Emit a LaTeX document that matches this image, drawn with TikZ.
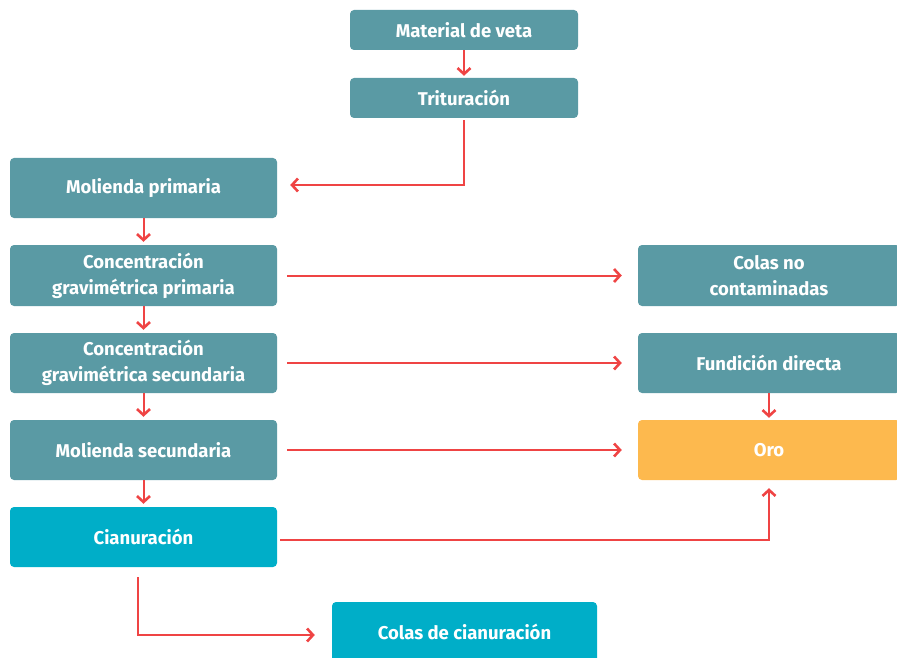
\documentclass[tikz,border=0pt]{standalone}
\usepackage{fontspec}
\setmainfont{Fira Sans}
\usepackage{tikz}
\usetikzlibrary{arrows.meta,positioning}
\definecolor{procteal}{HTML}{5A9AA4}
\definecolor{procblue}{HTML}{00AEC8}
\definecolor{procgold}{HTML}{FDB94E}
\definecolor{flowred}{HTML}{EF4444}

\begin{document}
\begin{tikzpicture}[x=1pt,y=-1pt]
      \useasboundingbox (0,0) rectangle (897,658);
      \begin{scope}[every node/.style={rectangle, rounded corners=4, fill=procteal, text=white, inner sep=0,
                    align=center, font=\fontsize{18.5}{26}\selectfont\bfseries}]
          \node[minimum width=228, minimum height=40] (MV) at (464,30) {Material de veta};
          \node[minimum width=228, minimum height=40] (TR) at (464,98) {Trituración};
          \node[minimum width=267, minimum height=60] (MP) at (143.5,188) {Molienda primaria};
          \node[minimum width=267, minimum height=61] (CP) at (143.5,275.5) {Concentración\\gravimétrica primaria};
          \node[minimum width=267, minimum height=60] (CS) at (143.5,363) {Concentración\\gravimétrica secundaria};
          \node[minimum width=267, minimum height=60] (MS) at (143.5,450) {Molienda secundaria};
          \node[minimum width=267, minimum height=60, fill=procblue] (CN) at (143.5,537) {Cianuración};
          \node[minimum width=265, minimum height=60, fill=procblue] (CC) at (464.5,632) {Colas de cianuración};
          \node[minimum width=262, minimum height=61] (NC) at (769,275.5) {Colas no\\contaminadas};
          \node[minimum width=262, minimum height=60] (FD) at (769,363) {Fundición directa};
          \node[minimum width=262, minimum height=60, fill=procgold] (OR) at (769,450) {Oro};
      \end{scope}

      \begin{scope}[>={Straight Barb[length=6pt, width=13pt, line width=2.6pt]},
                    every path/.style={draw=flowred, line width=2}]
          \draw [->, shorten >=2] (MV) -- (TR);
          \draw [->, shorten <=2, shorten >=13] (TR.south) |- ([yshift=3]MP.east);
          \draw [->, shorten >=3] (MP) -- (CP);
          \draw [->, shorten >=3] (CP) -- (CS);
          \draw [->, shorten >=3] (CS) -- (MS);
          \draw [->, shorten >=3] (MS) -- (CN);
          \draw [->, shorten <=10, shorten >=16] (CP) -- (NC);
          \draw [->, shorten <=10, shorten >=16] (CS) -- (FD);
          \draw [->, shorten <=10, shorten >=16] (MS) -- (OR);
          \draw [->, shorten >=2] (FD) -- (OR);
          \draw [->, shorten <=3, shorten >=8] ([yshift=-3]CN.east) -| (OR.south);
          \draw [->, shorten <=10, shorten >=17] ([xshift=-6]CN.south) |- ([yshift=-3]CC.west);
      \end{scope}
\end{tikzpicture}
\end{document}
